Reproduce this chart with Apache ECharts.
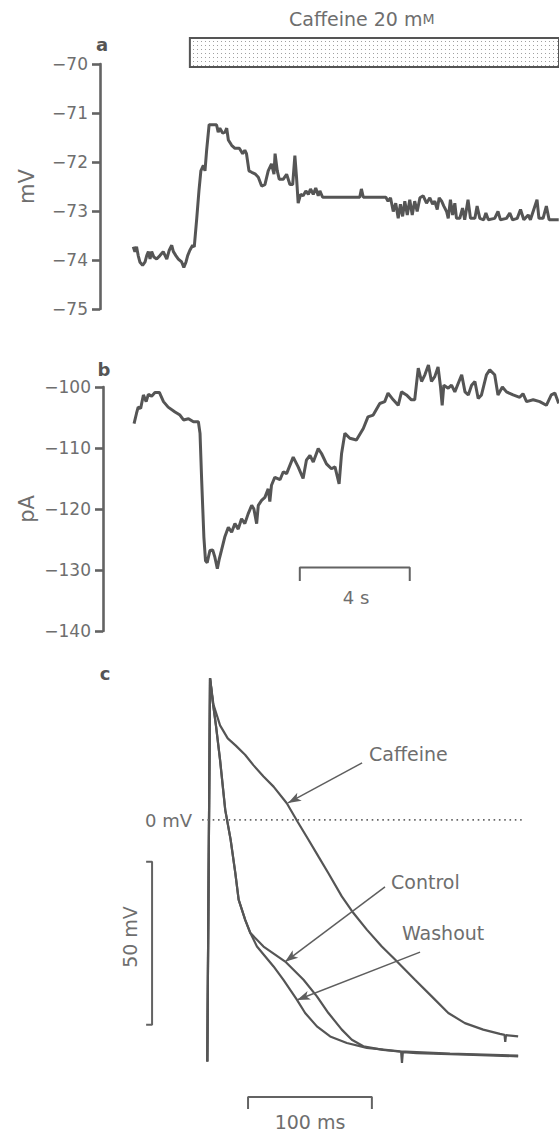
<!DOCTYPE html>
<html>
<head>
<meta charset="utf-8">
<script src="https://cdn.jsdelivr.net/npm/echarts@6/dist/echarts.min.js"></script>
<style>
html,body{margin:0;padding:0;background:#fff;}
#chart{width:559px;height:1133px;}
</style>
</head>
<body>
<div id="chart"></div>
<script>
// ---------- DATA ----------
// Panel a: membrane potential (mV) vs time (s)
const timeA = [0.01,0.07,0.13,0.19,0.25,0.35,0.44,0.50,0.56,0.62,0.68,0.76,0.86,0.98,1.10,1.23,1.32,1.41,1.47,1.56,1.65,1.77,1.85,1.93,1.99,2.07,2.17,2.23,2.32,2.40,2.47,2.56,2.62,2.68,2.77,3.04,3.10,3.16,3.26,3.35,3.41,3.47,3.59,3.71,3.87,3.99,4.07,4.13,4.22,4.32,4.44,4.56,4.68,4.80,4.92,5.04,5.13,5.17,5.25,5.32,
  5.47,5.59,5.71,5.81,5.89,5.95,6.01,6.10,6.19,6.29,6.38,6.46,6.56,6.65,6.74,6.80,6.90,8.25,8.31,8.38,9.20,9.28,9.37,9.47,9.56,9.65,9.73,9.81,9.89,9.98,10.07,10.16,10.25,10.34,10.44,10.56,10.68,10.80,10.90,10.98,11.07,11.14,11.23,11.31,11.41,11.47,11.55,11.63,11.71,11.77,11.89,11.99,12.07,12.19,12.28,12.44,12.52,12.62,12.76,12.84,12.93,13.16,13.28,13.37,13.59,13.71,13.81,13.98,14.10,14.22,14.38,14.46,14.70,14.77,14.92,15.04,15.14,15.49];
const mvA = [-73.73,-73.83,-73.73,-73.91,-74.04,-74.11,-74.04,-73.91,-73.83,-73.98,-73.83,-73.94,-73.98,-73.91,-73.83,-73.98,-73.80,-73.70,-73.83,-73.91,-73.98,-74.04,-74.15,-74.04,-73.91,-73.80,-73.70,-73.73,-73.15,-72.59,-72.18,-72.07,-72.18,-71.76,-71.24,-71.24,-71.39,-71.31,-71.41,-71.39,-71.31,-71.55,-71.66,-71.72,-71.72,-71.83,-71.76,-71.83,-72.18,-72.21,-72.24,-72.31,-72.49,-72.46,-72.18,-72.04,-72.25,-71.83,-72.18,-72.35,
  -72.35,-72.25,-72.46,-72.46,-71.87,-72.31,-72.84,-72.66,-72.69,-72.59,-72.66,-72.55,-72.66,-72.53,-72.69,-72.59,-72.72,-72.72,-72.55,-72.72,-72.72,-72.80,-72.73,-73.01,-72.84,-73.15,-72.86,-73.11,-72.80,-73.08,-72.77,-73.08,-72.80,-73.01,-72.73,-72.69,-72.84,-72.73,-72.86,-72.80,-72.97,-72.73,-72.80,-72.90,-73.01,-73.15,-72.77,-73.08,-72.84,-73.15,-73.15,-72.94,-73.18,-72.77,-73.15,-73.15,-72.90,-73.15,-73.18,-73.04,-73.18,-73.15,-73.01,-73.18,-73.15,-73.04,-73.18,-73.15,-72.97,-73.18,-73.08,-73.18,-72.77,-73.15,-73.15,-72.90,-73.18,-73.18];
const ticksA = [-75,-74,-73,-72,-71,-70];

// Panel b: membrane current (pA) vs time (s)
const timeB = [0.04,0.13,0.19,0.28,0.38,0.48,0.56,0.68,0.80,0.96,1.11,1.28,1.53,1.71,1.84,2.02,2.20,2.38,2.44,2.50,2.58,2.64,2.70,2.80,2.90,2.98,3.07,3.14,3.22,3.34,3.47,3.59,3.71,3.83,3.95,4.07,4.19,4.32,4.40,4.50,4.56,4.68,4.80,4.92,4.98,5.04,5.16,5.35,
  5.47,5.59,5.83,6.01,6.19,6.31,6.44,6.56,6.74,6.86,7.04,7.22,7.35,7.50,7.59,7.71,7.89,8.13,8.38,8.55,8.74,8.98,9.16,9.28,9.47,9.65,9.77,9.95,10.13,10.25,10.38,10.50,10.62,10.75,10.86,10.98,11.10,11.19,11.25,11.31,11.47,11.59,11.71,11.96,12.08,12.20,12.32,12.44,12.56,12.68,12.86,12.98,13.16,13.28,13.44,13.59,13.83,14.07,14.19,14.32,14.56,14.80,15.04,15.22,15.35,15.49];
const paB = [-106.0,-104.3,-103.3,-103.5,-101.3,-102.4,-101.2,-101.5,-100.9,-100.9,-102.4,-103.3,-104.1,-104.6,-105.4,-105.2,-105.7,-105.7,-107.6,-115.3,-124.6,-128.5,-128.8,-126.8,-126.7,-127.9,-129.8,-128.2,-126.8,-124.6,-123.0,-123.8,-122.4,-123.3,-121.6,-122.4,-120.8,-119.4,-120.0,-122.4,-119.4,-118.6,-118.1,-116.7,-118.8,-116.1,-114.8,-115.2,
  -113.9,-114.2,-111.5,-113.1,-115.0,-112.0,-111.2,-112.3,-110.1,-110.9,-112.6,-113.4,-113.1,-115.9,-110.9,-107.6,-108.4,-108.7,-106.8,-104.9,-104.6,-102.7,-102.4,-101.0,-102.1,-103.0,-100.8,-101.3,-102.1,-102.1,-96.9,-99.1,-98.0,-96.4,-99.1,-98.3,-96.7,-100.0,-103.0,-99.7,-100.2,-99.7,-100.8,-98.0,-100.8,-101.3,-99.7,-99.1,-101.9,-101.3,-98.0,-97.2,-98.0,-101.3,-100.0,-100.8,-101.3,-101.7,-101.1,-102.4,-102.1,-102.4,-103.0,-101.3,-101.0,-102.7];
const ticksB = [-140,-130,-120,-110,-100];

// Panel c: action potentials, time (ms) vs potential (mV)
const tCaffeine = [0,2.2,4.9,10.3,16.5,23,30.5,37.2,45.4,53.5,64.2,72.8,81.7,89.8,97.8,108.6,118,128.8,140.9,151.6,167.7,181.2,194.6,208,222.8,236.3,240,240.6,241.2,251];
const vCaffeine = [-74.2,43.5,35.5,29,25,22.8,20,16.8,13.3,10.2,5.1,-0.5,-6.1,-11.3,-16.4,-23.5,-28.6,-33.7,-38.9,-42.9,-49.1,-54.2,-59.3,-62.4,-64.4,-65.7,-66.0,-68.2,-66.1,-66.5];
const tControl = [0,2.2,4.5,7.1,10.3,14.5,18.8,22.6,25.3,30.6,34.7,45.4,62.9,77.7,88.5,97.8,108.6,116.7,126,142,156.5,157.2,157.9,169,209,251];
const vControl = [-74.2,43.5,36,28.6,18.4,3,-6,-16.3,-24.5,-30.7,-34.7,-38.9,-43.5,-49.1,-54.2,-59.3,-64.4,-67.5,-69.5,-70.6,-71.2,-74.6,-71.3,-71.6,-72.1,-72.6];
const tWashout = [0,2.2,4.5,7.1,10.3,14.5,18.8,22.6,25.3,30.6,34.7,40.1,53.5,61.5,72.3,79,88.5,99.2,112.7,128.8,155.6,196,251];
const vWashout = [-74.2,43.5,36,28.6,18.4,3,-6,-16.3,-24.5,-30.7,-34.7,-38.9,-45,-49.1,-55.2,-59.3,-63.4,-66.5,-68.5,-70,-71.1,-71.8,-72.4];
const zeroLineSpan = [-4.2, 254.9];           // ms, dotted 0 mV reference
const caffeineWindow = [2.07, 16];             // s, drug application bar
const scaleTime4s = [6.07, 10.07];             // s (4 s bar)
const scale100ms = [32.9, 132.9];              // ms
const scale50mV = [-12.9, -62.9];              // mV
const arrowCaffeine = [[125, 17.5], [65.2, 5.2]];
const arrowControl = [[143.5, -20.6], [62.8, -43.6]];
const arrowWashout = [[171.8, -40.6], [72.5, -55.3]];

// ---------- CHART ----------
const zip = (a, b) => a.map((x, i) => [x, b[i]]);
const GREY = '#555555', AX = '#636363', TXT = '#6e6e6e', FONT = 'DejaVu Sans';
const minusFmt = v => (v < 0 ? '\u2212' : '') + Math.abs(v);

const pat = document.createElement('canvas');
pat.width = 4; pat.height = 4;
const pg = pat.getContext('2d');
pg.fillStyle = '#ffffff'; pg.fillRect(0, 0, 4, 4);
pg.fillStyle = '#a0a0a0'; pg.fillRect(1, 1, 1, 1);

const chart = echarts.init(document.getElementById('chart'), null, {renderer: 'svg', width: 559, height: 1133});

function yAxisStyled(ticks, grid, name, gap) {
  return {
    type: 'value', gridIndex: grid,
    min: Math.min(...ticks), max: Math.max(...ticks), interval: ticks[1] - ticks[0],
    axisLine: {show: true, onZero: false, lineStyle: {color: AX, width: 2.6}},
    axisTick: {show: true, length: 8, lineStyle: {color: AX, width: 2.6}},
    axisLabel: {formatter: minusFmt, color: TXT, fontSize: 17, fontFamily: FONT, margin: 12},
    splitLine: {show: false},
    name: name, nameLocation: 'middle', nameGap: gap, nameMoveOverlap: false,
    nameTextStyle: {color: TXT, fontSize: 21, fontFamily: FONT}
  };
}

const option = {
  animation: false,
  backgroundColor: '#fff',
  grid: [
    {left: 100, right: 0, top: 64, height: 245},   // a
    {left: 103, right: 0, top: 387, height: 244},  // b
    {left: 133, right: 0, top: 657, height: 456},  // c
    {left: 100, right: 0, top: 38, height: 29}     // caffeine bar
  ],
  xAxis: [
    {type: 'value', gridIndex: 0, min: -1.2, max: 15.5, show: false},
    {type: 'value', gridIndex: 1, min: -1.09, max: 15.5, show: false},
    {type: 'value', gridIndex: 2, min: -60, max: 284, show: false},
    {type: 'value', gridIndex: 3, min: -1.2, max: 15.5, show: false}
  ],
  yAxis: [
    yAxisStyled(ticksA, 0, 'mV', 63),
    yAxisStyled(ticksB, 1, 'pA', 66),
    {type: 'value', gridIndex: 2, min: -90, max: 50, show: false},
    {type: 'value', gridIndex: 3, min: 0, max: 1, show: false}
  ],
  series: [
    {name: 'Membrane potential', type: 'line', xAxisIndex: 0, yAxisIndex: 0, data: zip(timeA, mvA),
     symbol: 'none', clip: false, lineStyle: {color: GREY, width: 3}},
    {name: 'Membrane current', type: 'line', xAxisIndex: 1, yAxisIndex: 1, data: zip(timeB, paB),
     symbol: 'none', clip: false, lineStyle: {color: GREY, width: 3}},
    {name: '4 s', type: 'line', xAxisIndex: 1, yAxisIndex: 1, symbol: 'none',
     data: [[scaleTime4s[0], -131.8], [scaleTime4s[0], -129.6], [scaleTime4s[1], -129.6], [scaleTime4s[1], -131.8]],
     lineStyle: {color: AX, width: 2}},
    {name: 'Caffeine', type: 'line', xAxisIndex: 2, yAxisIndex: 2, data: zip(tCaffeine, vCaffeine),
     symbol: 'none', clip: false, lineStyle: {color: GREY, width: 2.2}},
    {name: 'Control', type: 'line', xAxisIndex: 2, yAxisIndex: 2, data: zip(tControl, vControl),
     symbol: 'none', clip: false, lineStyle: {color: GREY, width: 2.2}},
    {name: 'Washout', type: 'line', xAxisIndex: 2, yAxisIndex: 2, data: zip(tWashout, vWashout),
     symbol: 'none', clip: false, lineStyle: {color: GREY, width: 2.2}},
    {name: '0 mV', type: 'line', xAxisIndex: 2, yAxisIndex: 2, symbol: 'none',
     data: [[zeroLineSpan[0], 0], [zeroLineSpan[1], 0]],
     lineStyle: {color: '#666', width: 1.8, type: [1.6, 3.7]}},
    {name: '50 mV', type: 'line', xAxisIndex: 2, yAxisIndex: 2, symbol: 'none',
     data: [[-49.4, scale50mV[0]], [-44.6, scale50mV[0]], [-44.6, scale50mV[1]], [-49.4, scale50mV[1]]],
     lineStyle: {color: AX, width: 2}},
    {name: '100 ms', type: 'line', xAxisIndex: 2, yAxisIndex: 2, symbol: 'none',
     data: [[scale100ms[0], -88.8], [scale100ms[0], -85.1], [scale100ms[1], -85.1], [scale100ms[1], -88.8]],
     lineStyle: {color: AX, width: 2}},
    {name: 'arrows', type: 'line', xAxisIndex: 2, yAxisIndex: 2, data: [],
     markLine: {
       silent: true, symbol: ['none', 'arrow'], symbolSize: [7, 13], animation: false,
       label: {show: false},
       lineStyle: {color: '#5e5e5e', width: 1.5, type: 'solid'},
       data: [arrowCaffeine, arrowControl, arrowWashout].map(a => [{coord: a[0]}, {coord: a[1]}])
     }},
    {name: 'Caffeine 20 mM', type: 'line', xAxisIndex: 3, yAxisIndex: 3, data: [],
     markArea: {
       silent: true,
       itemStyle: {color: {image: pat, repeat: 'repeat'}, borderColor: '#555', borderWidth: 2},
       data: [[{coord: [caffeineWindow[0], 0]}, {coord: [caffeineWindow[1], 1]}]]
     }}
  ],
  graphic: [
    {type: 'text', left: 289, top: 9, style: {text: 'Caffeine 20 m{sc|M}', fill: TXT, font: '19px "DejaVu Sans"',
      rich: {sc: {fontSize: 14, fill: TXT, fontFamily: FONT}}}},
    {type: 'text', x: 102, y: 44, style: {text: 'a', fill: '#555', font: 'bold 18px "DejaVu Sans"', textAlign: 'center', textVerticalAlign: 'middle'}},
    {type: 'text', x: 104, y: 369, style: {text: 'b', fill: '#555', font: 'bold 18px "DejaVu Sans"', textAlign: 'center', textVerticalAlign: 'middle'}},
    {type: 'text', x: 105, y: 673, style: {text: 'c', fill: '#555', font: 'bold 18px "DejaVu Sans"', textAlign: 'center', textVerticalAlign: 'middle'}},
    {type: 'text', x: 356, y: 597, style: {text: '4 s', fill: TXT, font: '18px "DejaVu Sans"', textAlign: 'center', textVerticalAlign: 'middle'}},
    {type: 'text', x: 192, y: 820, style: {text: '0 mV', fill: TXT, font: '18px "DejaVu Sans"', textAlign: 'right', textVerticalAlign: 'middle'}},
    {type: 'text', x: 130, y: 937, rotation: Math.PI / 2, style: {text: '50 mV', fill: TXT, font: '19px "DejaVu Sans"', textAlign: 'center', textVerticalAlign: 'middle'}},
    {type: 'text', x: 310, y: 1122, style: {text: '100 ms', fill: TXT, font: '19px "DejaVu Sans"', textAlign: 'center', textVerticalAlign: 'middle'}},
    {type: 'text', x: 369, y: 754, style: {text: 'Caffeine', fill: TXT, font: '19px "DejaVu Sans"', textAlign: 'left', textVerticalAlign: 'middle'}},
    {type: 'text', x: 391, y: 882, style: {text: 'Control', fill: TXT, font: '19px "DejaVu Sans"', textAlign: 'left', textVerticalAlign: 'middle'}},
    {type: 'text', x: 402, y: 933, style: {text: 'Washout', fill: TXT, font: '19px "DejaVu Sans"', textAlign: 'left', textVerticalAlign: 'middle'}}
  ]
};
chart.setOption(option);
</script>
</body>
</html>
